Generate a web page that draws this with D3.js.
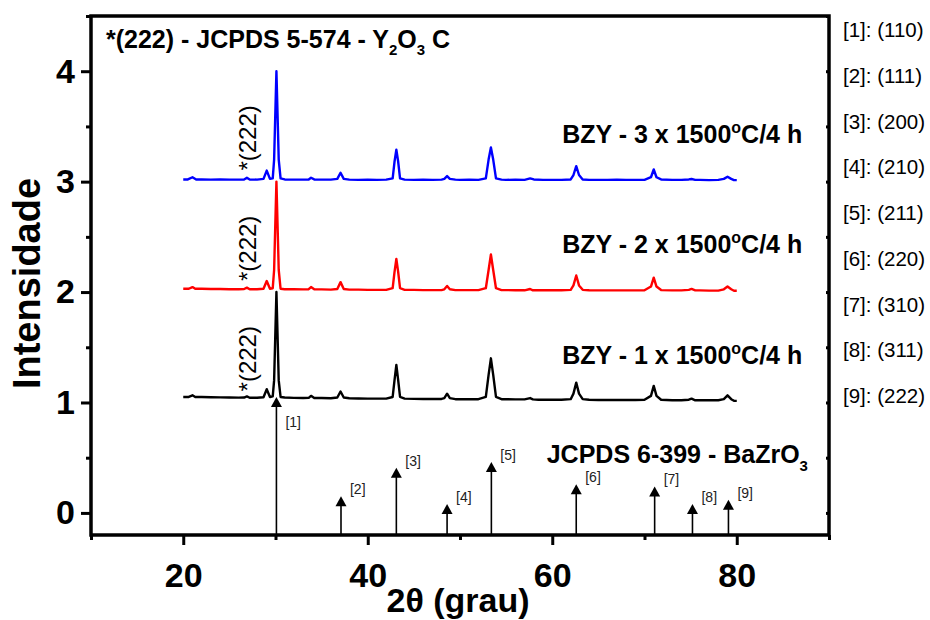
<!DOCTYPE html>
<html>
<head>
<meta charset="utf-8">
<script src="https://cdn.jsdelivr.net/npm/d3@7"></script>
<style>
  body { margin: 0; background: #fff; }
  svg { display: block; font-family: Arial, "Liberation Sans", sans-serif; }
  .axis line { stroke: #000; stroke-width: 3; }
  .axis text { font-size: 34px; font-weight: bold; fill: #000; }
  .lbl { font-size: 25px; font-weight: bold; fill: #000; }
</style>
</head>
<body>
<svg id="chart" width="930" height="620"></svg>
<script>
// tick values
const xTicks = [20, 40, 60, 80];
const xMinor = [10, 30, 50, 70, 90];
const yTicks = [0, 1, 2, 3, 4];
const yMinor = [0.5, 1.5, 2.5, 3.5, 4.5];

// JCPDS 6-399 BaZrO3 reference lines
const stickTheta = [30.1, 37.1, 43.1, 48.6, 53.4, 62.6, 71.1, 75.2, 79.1];
const stickHeight = [1.05, 0.15, 0.41, 0.08, 0.46, 0.26, 0.24, 0.08, 0.12];
const stickHkl = ['(110)', '(111)', '(200)', '(210)', '(211)', '(220)', '(310)', '(311)', '(222)'];

// series: sintering cycles
const seriesCycles = ['1', '2', '3'];
const seriesOffset = [1, 2, 3];
const seriesColor = ['#000000', '#ff0000', '#0000ff'];

// [2theta, intensity]
const pattern1 = [
  [20.0,1.05],[20.6,1.05],[21.0,1.065],[21.3,1.05],[22,1.05],[23,1.048],[24,1.046],[25,1.045],[26,1.044],[26.6,1.045],
  [26.9,1.055],[27.2,1.043],[28,1.043],[28.7,1.047],[29.05,1.12],[29.4,1.05],[29.7,1.055],[29.85,1.2],[30.1,2.0],[30.35,1.2],
  [30.55,1.05],[31,1.045],[32,1.042],[33,1.04],[33.6,1.042],[33.85,1.06],[34.2,1.04],[35,1.04],[36,1.038],[36.7,1.045],
  [37.05,1.1],[37.4,1.045],[38,1.038],[39,1.036],[40,1.035],[41,1.035],[42,1.035],[42.7,1.05],[42.9,1.2],[43.1,1.34],
  [43.3,1.2],[43.5,1.05],[44,1.035],[45,1.033],[46,1.032],[47,1.032],[48,1.032],[48.3,1.04],[48.6,1.08],[48.9,1.04],
  [49.5,1.03],[50,1.03],[51,1.03],[52,1.03],[52.8,1.05],[53.1,1.25],[53.35,1.4],[53.6,1.25],[53.9,1.05],[54.5,1.03],
  [55,1.03],[56,1.028],[57,1.028],[57.6,1.04],[57.9,1.028],[58.5,1.025],[59,1.025],[60,1.025],[61,1.025],[62,1.03],
  [62.3,1.08],[62.6,1.18],[62.9,1.08],[63.3,1.03],[64,1.025],[65,1.022],[66,1.022],[67,1.022],[68,1.022],[69,1.022],
  [70,1.025],[70.7,1.06],[71.0,1.15],[71.3,1.06],[71.8,1.025],[73,1.02],[74,1.02],[74.8,1.025],[75.1,1.035],[75.5,1.02],
  [76,1.02],[77,1.02],[78,1.02],[78.6,1.03],[79.0,1.065],[79.4,1.03],[79.7,1.015],[80,1.015]
];
const pattern2 = [
  [20.0,2.03],[20.6,2.03],[21.0,2.045],[21.3,2.03],[22,2.03],[23,2.028],[24,2.028],[25,2.026],[26,2.026],[26.6,2.028],
  [26.9,2.04],[27.2,2.026],[28,2.026],[28.7,2.03],[29.05,2.1],[29.4,2.03],[29.7,2.035],[29.85,2.2],[30.1,3.0],[30.35,2.2],
  [30.55,2.03],[31,2.026],[32,2.025],[33,2.024],[33.6,2.026],[33.85,2.045],[34.2,2.025],[35,2.024],[36,2.022],[36.7,2.028],
  [37.05,2.09],[37.4,2.028],[38,2.022],[39,2.022],[40,2.02],[41,2.02],[42,2.02],[42.7,2.035],[42.9,2.18],[43.1,2.3],
  [43.3,2.18],[43.5,2.035],[44,2.02],[45,2.02],[46,2.018],[47,2.018],[48,2.018],[48.3,2.025],[48.6,2.055],[48.9,2.025],
  [49.5,2.018],[50,2.018],[51,2.018],[52,2.018],[52.8,2.035],[53.1,2.2],[53.35,2.34],[53.6,2.2],[53.9,2.035],[54.5,2.018],
  [55,2.018],[56,2.016],[57,2.016],[57.6,2.028],[57.9,2.016],[58.5,2.016],[59,2.016],[60,2.016],[61,2.016],[62,2.02],
  [62.3,2.06],[62.6,2.15],[62.9,2.06],[63.3,2.02],[64,2.016],[65,2.015],[66,2.015],[67,2.015],[68,2.015],[69,2.015],
  [70,2.016],[70.7,2.05],[71.0,2.13],[71.3,2.05],[71.8,2.018],[73,2.015],[74,2.015],[74.8,2.02],[75.1,2.028],[75.5,2.015],
  [76,2.015],[77,2.013],[78,2.013],[78.6,2.025],[79.0,2.05],[79.4,2.025],[79.7,2.012],[80,2.012]
];
const pattern3 = [
  [20.0,3.02],[20.5,3.02],[21.0,3.04],[21.4,3.02],[22,3.02],[23,3.018],[24,3.02],[25,3.018],[26,3.018],[26.6,3.02],
  [26.9,3.035],[27.2,3.02],[28,3.018],[28.7,3.025],[29.05,3.1],[29.4,3.025],[29.7,3.03],[29.85,3.2],[30.1,4.0],[30.35,3.2],
  [30.55,3.03],[31,3.02],[32,3.018],[33,3.018],[33.6,3.02],[33.85,3.035],[34.2,3.02],[35,3.018],[36,3.018],[36.7,3.025],
  [37.05,3.08],[37.4,3.025],[38,3.018],[39,3.016],[40,3.018],[41,3.016],[42,3.018],[42.7,3.03],[42.9,3.18],[43.1,3.29],
  [43.3,3.18],[43.5,3.03],[44,3.018],[45,3.016],[46,3.018],[47,3.016],[48,3.018],[48.3,3.025],[48.6,3.05],[48.9,3.025],
  [49.5,3.018],[50,3.016],[51,3.018],[52,3.016],[52.8,3.03],[53.1,3.2],[53.35,3.31],[53.6,3.2],[53.9,3.03],[54.5,3.018],
  [55,3.016],[56,3.018],[57,3.016],[57.6,3.03],[58,3.02],[59,3.016],[60,3.016],[61,3.016],[62,3.02],
  [62.3,3.06],[62.6,3.14],[62.9,3.06],[63.3,3.02],[64,3.016],[65,3.016],[66,3.016],[67,3.018],[68,3.016],[69,3.016],
  [70,3.016],[70.7,3.04],[71.0,3.11],[71.3,3.04],[71.8,3.02],[73,3.016],[74,3.016],[74.8,3.02],[75.1,3.024],[75.5,3.016],
  [76,3.016],[77,3.014],[78,3.016],[78.6,3.025],[79.0,3.045],[79.4,3.025],[79.7,3.014],[80,3.014]
];
const patterns = [pattern1, pattern2, pattern3];

const svg = d3.select('#chart');
const margin = {top: 16, right: 101, bottom: 85, left: 91},
    width = +svg.attr('width') - margin.left - margin.right,
    height = +svg.attr('height') - margin.top - margin.bottom;

const g = svg.append('g')
  .attr('transform', 'translate(' + margin.left + ',' + margin.top + ')');

const x = d3.scaleLinear().domain([10, 90]).range([0, width]);
const y = d3.scaleLinear().domain([-0.2, 4.5]).range([height, 0]);

// axes
g.append('g').attr('class', 'axis')
  .attr('transform', 'translate(0,' + height + ')')
  .call(d3.axisBottom(x).tickValues(xTicks).tickSize(10).tickPadding(18).tickFormat(d3.format('d')));
g.append('g').attr('class', 'axis')
  .attr('transform', 'translate(0,' + height + ')')
  .call(d3.axisBottom(x).tickValues(xMinor).tickSize(5).tickFormat(''));
g.append('g').attr('class', 'axis')
  .call(d3.axisLeft(y).tickValues(yTicks).tickSize(10).tickPadding(6).tickFormat(d3.format('d')));
g.append('g').attr('class', 'axis')
  .call(d3.axisLeft(y).tickValues(yMinor).tickSize(5).tickFormat(''));
g.append('g').attr('class', 'axis')
  .attr('transform', 'translate(' + width + ',0)')
  .call(d3.axisLeft(y).tickValues(yTicks.concat(yMinor)).tickSize(3).tickFormat(''));
g.selectAll('.axis .domain').remove();
g.selectAll('.axis text').attr('fill', '#000');

g.append('rect')
  .attr('width', width).attr('height', height)
  .attr('fill', 'none').attr('stroke', '#000').attr('stroke-width', 3.5);

// patterns
const line = d3.line().x(d => x(d[0])).y(d => y(d[1]));
g.selectAll('.pattern')
  .data(patterns)
  .enter().append('path')
  .attr('class', 'pattern')
  .attr('d', line)
  .attr('fill', 'none')
  .attr('stroke', (d, i) => seriesColor[i])
  .attr('stroke-width', 2.4)
  .attr('stroke-linejoin', 'round');

// *(222) marks, rotated
seriesOffset.forEach(k => {
  g.append('text')
    .attr('transform', 'translate(' + x(27.9) + ',' + y(k + 0.1) + ') rotate(-90)')
    .attr('font-size', 24)
    .attr('fill', '#000')
    .text('*(222)');
});

// series labels
seriesOffset.forEach((k, i) => {
  const t = g.append('text').attr('class', 'lbl')
    .attr('x', x(87.1)).attr('y', y(k + 0.35))
    .attr('text-anchor', 'end');
  t.append('tspan').text('BZY - ' + seriesCycles[i] + ' x 1500');
  t.append('tspan').attr('font-size', 16).attr('dy', -10).text('o');
  t.append('tspan').attr('dy', 10).text('C/4 h');
});

// reference sticks
const sticks = g.selectAll('.stick')
  .data(stickTheta)
  .enter().append('g')
  .attr('class', 'stick');
sticks.append('line')
  .attr('x1', d => x(d)).attr('x2', d => x(d))
  .attr('y1', y(-0.2))
  .attr('y2', (d, i) => y(stickHeight[i]) + 8)
  .attr('stroke', '#000').attr('stroke-width', 1.6);
sticks.append('path')
  .attr('d', 'M0,0L-5.5,10L5.5,10Z')
  .attr('transform', (d, i) => 'translate(' + x(d) + ',' + y(stickHeight[i]) + ')')
  .attr('fill', '#000');
sticks.append('text')
  .attr('x', d => x(d) + 9)
  .attr('y', (d, i) => y(stickHeight[i]) + (i === 0 ? 30 : -2))
  .attr('font-size', 14)
  .attr('fill', '#222')
  .text((d, i) => '[' + (i + 1) + ']');

// right side hkl list
g.selectAll('.hkl')
  .data(stickHkl)
  .enter().append('text')
  .attr('class', 'hkl')
  .attr('x', width + 14)
  .attr('y', (d, i) => 21 + i * 45.75)
  .attr('font-size', 20.5)
  .attr('fill', '#000')
  .text((d, i) => '[' + (i + 1) + ']: ' + d);

// JCPDS labels
{
  const t = g.append('text').attr('class', 'lbl')
    .attr('x', x(59.4)).attr('y', y(0.45));
  t.append('tspan').text('JCPDS 6-399 - BaZrO');
  t.append('tspan').attr('font-size', 15).attr('dy', 8).text('3');
}
{
  const t = g.append('text').attr('class', 'lbl')
    .attr('x', 15).attr('y', 32);
  t.append('tspan').text('*(222) - JCPDS 5-574 - Y');
  t.append('tspan').attr('font-size', 15).attr('dy', 7).text('2');
  t.append('tspan').attr('dy', -7).text('O');
  t.append('tspan').attr('font-size', 15).attr('dy', 7).text('3');
  t.append('tspan').attr('dy', -7).text(' C');
}

// axis titles
svg.append('text')
  .attr('x', margin.left + x(50) - 2).attr('y', 612)
  .attr('text-anchor', 'middle')
  .attr('font-size', 34).attr('font-weight', 'bold')
  .text('2θ (grau)');
svg.append('text')
  .attr('transform', 'translate(40,' + (margin.top + height / 2 + 8) + ') rotate(-90)')
  .attr('text-anchor', 'middle')
  .attr('font-size', 38).attr('font-weight', 'bold')
  .text('Intensidade');
</script>
</body>
</html>
